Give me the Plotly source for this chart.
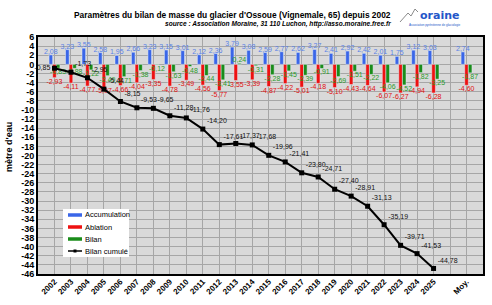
import plotly.graph_objects as go

# ---------------------------------------------------------------------------
# Data (m w.e.)
# ---------------------------------------------------------------------------
categories = [str(y) for y in range(2002, 2026)] + [" ", "Moy."]

accumulation = [2.08, 3.23, 3.55, 2.58, 1.95, 2.66, 3.23, 3.15, 3.01, 2.12, 2.36, 3.79,
                3.08, 2.59, 2.77, 2.62, 3.27, 2.41, 2.92, 2.42, 2.01, 1.75, 3.12, 3.03,
                None, 2.74]
ablation = [-2.93, -4.11, -4.77, -5.07, -4.66, -4.04, -3.35, -4.78, -3.49, -4.56, -5.77, -3.55,
            -3.39, -4.87, -4.22, -5.01, -4.18, -5.10, -4.43, -4.64, -6.07, -6.27, -4.94, -6.28,
            None, -4.60]
bilan = [-0.85, -0.88, -1.22, -2.49, -2.71, -1.38, -0.12, -1.63, -0.48, -2.44, -3.41, 0.24,
         -0.31, -2.28, -1.45, -2.39, -0.91, -2.69, -1.51, -2.22, -4.06, -4.52, -1.82, -3.25,
         None, -1.87]
bilan_cumule = [-0.85, -1.73, -2.95, -5.44, -8.15, -9.53, -9.65, -11.28, -11.76, -14.20, -17.61,
                -17.37, -17.68, -19.96, -21.41, -23.80, -24.71, -27.40, -28.91, -31.13, -35.19,
                -39.71, -41.53, -44.78]

y_ticks = list(range(6, -47, -2))

FONT = "Liberation Sans, Arial, sans-serif"
W, H = 492, 305
L, R, T, B = 38, 9, 37, 31

BLUE, RED, GREEN = "#3a66e8", "#ee1111", "#1a8c1a"


def fr(values):
    """French decimal formatting: 2.08 -> '2,08'."""
    return ["" if v is None else f"{v:.2f}".replace(".", ",") for v in values]


def px_x(x):
    return (x - L) / (W - L - R)


def px_y(y):
    return (H - B - y) / (H - T - B)


def note(text, x, y, size, xanchor="center", **font):
    return dict(text=text, xref="paper", yref="paper", x=px_x(x), y=px_y(y),
                xanchor=xanchor, yanchor="middle", showarrow=False,
                font=dict(size=size, family=FONT, **font))


fig = go.Figure()

for values, name, color, label_color in [
    (accumulation, "Accumulation", BLUE, "#5a82e6"),
    (ablation, "Ablation", RED, "#e01010"),
    (bilan, "Bilan", GREEN, "#2a9a2a"),
]:
    fig.add_bar(x=categories, y=values, name=name, marker_color=color,
                text=fr(values), textposition="outside", cliponaxis=False,
                constraintext="none", textfont=dict(size=7, family=FONT, color=label_color))

positions = ["middle left"] + ["top right"] * (len(bilan_cumule) - 1)
fig.add_scatter(x=categories[:len(bilan_cumule)], y=bilan_cumule, name="Bilan cumulé",
                mode="lines+markers+text", line=dict(color="black", width=2),
                marker=dict(color="black", size=5, symbol="square"),
                text=fr(bilan_cumule), textposition=positions,
                textfont=dict(size=7, family=FONT, color="#111111"), cliponaxis=False)

# hand-drawn legend (Plotly's own legend rows are too tall for this box)
legend_rows = [("Accumulation", BLUE, 215), ("Ablation", RED, 227),
               ("Bilan", GREEN, 239), ("Bilan cumulé", "black", 251)]
shapes = [dict(type="rect", xref="paper", yref="paper", x0=px_x(63), x1=px_x(129),
               y0=px_y(209), y1=px_y(257), fillcolor="white", line=dict(width=0))]
annotations = []
for label, color, yy in legend_rows:
    width = 1.5 if color == "black" else 3.5
    shapes.append(dict(type="line", xref="paper", yref="paper", x0=px_x(68), x1=px_x(82),
                       y0=px_y(yy), y1=px_y(yy), line=dict(color=color, width=width)))
    annotations.append(note(label, 83, yy, 7.5, xanchor="left", color="black"))
shapes.append(dict(type="rect", xref="paper", yref="paper", x0=px_x(73.5), x1=px_x(76.5),
                   y0=px_y(249.5), y1=px_y(252.5), fillcolor="black", line=dict(width=0)))

# logo mountain stroke
shapes.append(dict(type="path", xref="paper", yref="paper",
                   path=f"M {px_x(400)} {px_y(22)} L {px_x(408)} {px_y(13)} L {px_x(411)} {px_y(16)}"
                        f" L {px_x(415)} {px_y(9)} L {px_x(418)} {px_y(12)}",
                   line=dict(color="#8a8a8a", width=1)))

annotations += [
    dict(text="mètre d'eau", xref="paper", yref="paper", x=px_x(9), y=px_y(147),
         xanchor="center", yanchor="middle", textangle=-90, showarrow=False,
         font=dict(size=9, family=FONT, weight="bold")),
    note("Paramètres du bilan de masse du glacier d'Ossoue (Vignemale, 65) depuis 2002",
         393, 15, 8.4, xanchor="right", weight="bold"),
    note("<i>source : Association Moraine, 31 110 Luchon, http://asso.moraine.free.fr</i>",
         393, 24, 6.6, xanchor="right", weight="bold"),
    dict(text="oraine", xref="paper", yref="paper", x=px_x(439), y=px_y(16),
         xanchor="center", yanchor="middle", showarrow=False,
         font=dict(size=11, weight="bold", color="#2456c8", family="DejaVu Sans, sans-serif")),
    note("Association pyrénéenne de glaciologie", 435, 25, 3, color="#2456c8"),
]

fig.update_layout(
    width=W, height=H,
    margin=dict(l=L, r=R, t=T, b=B, autoexpand=False),
    paper_bgcolor="white",
    plot_bgcolor="#d9d9d9",
    barmode="group", bargap=0.34, bargroupgap=0,
    font=dict(family=FONT, size=9, color="black"),
    showlegend=False,
    xaxis=dict(type="category", categoryorder="array", categoryarray=categories,
               range=[-1, len(categories)], tickangle=-45, automargin=False,
               ticklabelstandoff=-2,
               tickfont=dict(size=8, family=FONT, weight="bold"),
               showgrid=True, gridcolor="#a6a6a6", gridwidth=1,
               showline=True, linecolor="black", linewidth=2, mirror=True, ticks=""),
    yaxis=dict(range=[-46, 6], tickvals=y_ticks, ticktext=[str(v) for v in y_ticks],
               automargin=False,
               tickfont=dict(size=9, family=FONT, weight="bold"),
               showgrid=True, gridcolor="#a6a6a6", gridwidth=1, zeroline=False,
               showline=True, linecolor="black", linewidth=2, mirror=True, ticks=""),
    shapes=shapes,
    annotations=annotations,
)

# the page's default 8px body margin would push the chart out of the window
fig.write_html("out.html", config={"displayModeBar": False},
               post_script="document.body.style.margin='0';")
